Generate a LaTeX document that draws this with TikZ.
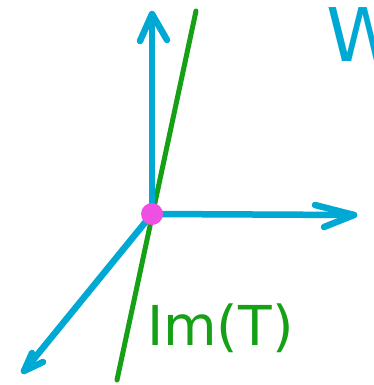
\documentclass[tikz,border=0pt]{standalone}
\usepackage{fontspec}
\newfontfamily\handfont{DejaVu Sans}
\definecolor{axisblue}{RGB}{0,169,212}
\definecolor{imgreen}{RGB}{22,160,22}
\definecolor{dotpink}{RGB}{238,80,228}
\begin{document}
\begin{tikzpicture}[x=1pt,y=-1pt,
  axis/.style={draw=axisblue,line width=6.5pt,line cap=round,line join=round},
  head/.style={draw=axisblue,line width=6.5pt,line cap=round,line join=round},
  imline/.style={draw=imgreen,line width=5pt,line cap=round},
  label/.style={inner sep=0pt,font=\handfont}]
\useasboundingbox (0,0) rectangle (374,385);
\coordinate (O) at (152,214);
\coordinate (up) at (152,14);
\coordinate (right) at (354,215);
\coordinate (dl) at (24,371);
\coordinate (gtop) at (196,11);
\coordinate (gbot) at (117,380);
% green image line
\draw[imline] (gtop) -- (gbot);
% axes
\draw[axis] (O) -- (up);
\draw[head] (140,41) -- (up) -- (167,40);
\draw[axis] (O) -- (right);
\draw[head] (315,205) -- (right) -- (324,227);
\draw[axis] (O) -- (dl);
\draw[head] (32,353) -- (dl) -- (43,362);
% origin
\node[circle,fill=dotpink,minimum size=22pt,inner sep=0pt] (dot) at (O) {};
% labels
\node[label,text=imgreen,font=\handfont\fontsize{55}{60}\selectfont,anchor=base west] (imt) at (147,345) {Im(T)};
\node[label,text=axisblue,font=\handfont\fontsize{74}{80}\selectfont,anchor=base west] (w) at (326,62) {W};
\end{tikzpicture}
\end{document}
